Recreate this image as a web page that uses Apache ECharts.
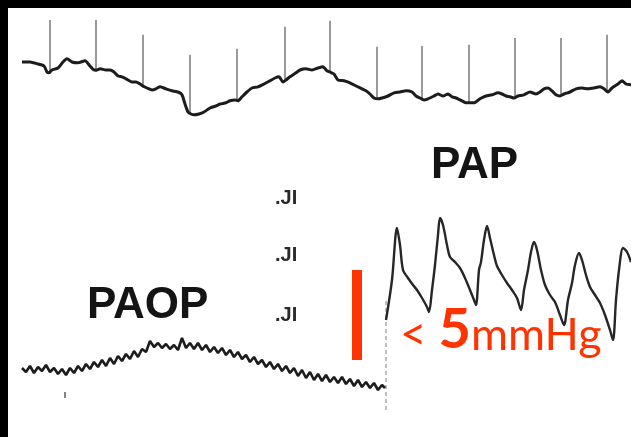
<!DOCTYPE html>
<html><head><meta charset="utf-8">
<script src="https://cdn.jsdelivr.net/npm/echarts@6/dist/echarts.min.js"></script>
<style>html,body{margin:0;padding:0;background:#fff}#c{width:631px;height:437px}</style>
</head><body><div id="c"></div>
<script>
// ECG (time in s, amplitude in mV)
var ecgTime = [0.02,0.10,0.18,0.24,0.27,0.29,0.32,0.38,0.43,0.47,0.52,0.58,0.65,0.70,0.74,0.77,0.80,0.86,0.90,0.94,0.98,1.02,1.06,1.12,1.16,1.20,1.23,1.27,1.32,1.36,1.40,1.46,1.52,1.58,1.62,1.65,1.68,1.71,1.74,1.79,1.84,1.90,1.96,2.00,2.06,2.10,2.15,2.18,2.22,2.27,2.32,2.38,2.44,2.50,2.55,2.59,2.63,2.66,2.70,2.76,2.80,2.86,2.92,2.98,3.03,3.07,3.10,3.14,3.18,3.24,3.30,3.36,3.42,3.46,3.50,3.54,3.58,3.62,3.68,3.74,3.80,3.86,3.92,3.96,4.00,4.04,4.08,4.14,4.18,4.23,4.28,4.32,4.36,4.42,4.46,4.50,4.54,4.60,4.66,4.72,4.78,4.82,4.86,4.90,4.94,4.98,5.04,5.10,5.16,5.20,5.24,5.28,5.32,5.36,5.40,5.44,5.50,5.56,5.62,5.68,5.74,5.80,5.84,5.88,5.92,5.98,6.02,6.06,6.11];
var ecgMv = [1.45,1.45,1.40,1.35,1.20,1.18,1.25,1.30,1.45,1.53,1.45,1.43,1.48,1.35,1.25,1.25,1.28,1.25,1.25,1.20,1.10,1.08,1.03,0.95,0.95,0.90,0.85,0.80,0.75,0.78,0.83,0.78,0.73,0.70,0.63,0.40,0.20,0.15,0.13,0.15,0.20,0.30,0.35,0.40,0.43,0.48,0.50,0.48,0.58,0.70,0.80,0.83,0.90,0.98,1.05,1.08,0.95,1.00,1.08,1.18,1.25,1.28,1.25,1.30,1.33,1.23,1.20,1.15,1.00,0.98,0.93,0.85,0.78,0.73,0.65,0.55,0.53,0.55,0.60,0.68,0.70,0.73,0.70,0.60,0.55,0.50,0.53,0.60,0.65,0.60,0.65,0.58,0.55,0.48,0.43,0.43,0.43,0.53,0.60,0.63,0.68,0.65,0.60,0.58,0.55,0.60,0.63,0.70,0.65,0.70,0.78,0.80,0.73,0.63,0.60,0.65,0.70,0.78,0.80,0.78,0.80,0.83,0.78,0.70,0.80,0.90,0.98,0.90,0.88];
var spikeTime = [0.30,0.76,1.23,1.70,2.17,2.65,3.10,3.57,4.02,4.49,4.95,5.41,5.87];
var spikeTop = [2.50,2.50,2.13,1.63,1.78,2.33,2.48,1.83,1.85,1.88,2.05,2.05,2.13];
var spikeBottom = [1.15,1.20,0.80,0.15,0.48,0.95,1.18,0.50,0.48,0.40,0.55,0.60,0.70];

// Pressure traces (time in s, pressure in mmHg)
var paopTime = [0.02,0.06,0.10,0.14,0.18,0.22,0.26,0.30,0.34,0.38,0.42,0.46,0.50,0.54,0.58,0.62,0.66,0.70,0.74,0.78,0.82,0.86,0.90,0.94,0.98,1.02,1.06,1.10,1.14,1.18,1.22,1.26,1.30,1.34,1.38,1.42,1.46,1.50,1.54,1.58,1.62,1.66,1.70,1.74,1.78,1.82,1.86,1.90,1.94,1.98,2.02,2.06,2.10,2.14,2.18,2.22,2.26,2.30,2.34,2.38,2.42,2.46,2.50,2.54,2.58,2.62,2.66,2.70,2.74,2.78,2.82,2.86,2.90,2.94,2.98,3.02,3.06,3.10,3.14,3.18,3.22,3.26,3.30,3.34,3.38,3.42,3.46,3.50,3.54,3.58,3.62,3.65];
var paopMmHg = [8.10,7.90,8.20,7.85,8.15,7.95,8.25,7.90,8.10,7.80,8.05,7.75,8.10,7.85,8.20,7.95,8.30,8.05,8.40,8.15,8.50,8.20,8.60,8.30,8.70,8.45,8.80,8.55,8.95,8.65,9.05,8.90,9.45,9.15,9.35,9.10,9.30,9.05,9.25,9.00,9.60,9.10,9.35,9.05,9.35,9.00,9.25,8.90,9.15,8.85,9.10,8.75,9.00,8.65,8.90,8.55,8.75,8.40,8.65,8.30,8.50,8.15,8.40,8.05,8.30,7.95,8.20,7.85,8.10,7.70,8.00,7.60,7.90,7.50,7.80,7.45,7.75,7.40,7.65,7.35,7.65,7.30,7.55,7.20,7.50,7.15,7.40,7.10,7.35,7.00,7.25,7.10];
var papTime = [3.66,3.72,3.77,3.80,3.83,3.88,3.93,3.97,4.02,4.07,4.09,4.12,4.15,4.18,4.20,4.23,4.27,4.30,4.35,4.40,4.45,4.50,4.54,4.56,4.59,4.61,4.64,4.67,4.70,4.74,4.77,4.82,4.87,4.92,4.97,5.01,5.04,5.08,5.11,5.14,5.17,5.21,5.25,5.30,5.35,5.40,5.44,5.48,5.52,5.55,5.59,5.62,5.66,5.70,5.75,5.80,5.85,5.90,5.93,5.96,5.99,6.03,6.07,6.11];
var papMmHg = [10.50,12.50,15.10,14.25,13.00,12.60,12.25,12.00,11.60,11.15,10.90,12.00,13.25,14.75,15.60,15.25,14.25,13.65,13.40,13.10,12.60,12.00,11.50,11.25,13.00,13.40,14.50,15.20,14.60,13.75,13.20,12.75,12.35,12.00,11.60,11.00,12.00,13.00,13.90,14.40,14.00,13.00,12.25,11.75,11.40,10.75,10.25,11.50,12.35,13.25,13.85,13.50,12.75,12.15,11.75,11.35,10.75,10.00,9.50,11.50,13.00,14.10,13.90,13.40];
var switchTime = [3.66, 3.66];
var switchMmHg = [6.0, 11.5];
var scaleBarTime = [3.37, 3.37];
var scaleBarMmHg = [8.5, 13.0];
var artifactTime = [0.45];
var artifactMmHg = [6.75];

// Labels
var labelPaop = 'PAOP';
var labelPap = 'PAP';
var calMark = '.JI';
var noteLess = '< ';
var noteValue = '5';
var noteUnit = 'mmHg';

function pairs(xs, ys) { return xs.map(function (x, i) { return [x, ys[i]]; }); }
var spikeData = [];
spikeTime.forEach(function (t, i) {
  spikeData.push([t, spikeBottom[i]], [t, spikeTop[i]], [t, spikeBottom[i]], '-');
});

var chart = echarts.init(document.getElementById('c'), null, { renderer: 'canvas' });
var hidden = { show: false };
var red = '#ff3300';
chart.setOption({
  backgroundColor: '#ffffff',
  animation: false,
  grid: [
    { left: 20, top: 20, width: 611, height: 100 },
    { left: 20, top: 200, width: 611, height: 230 }
  ],
  xAxis: [
    { type: 'value', gridIndex: 0, min: 0, max: 6.11, axisLine: hidden, axisTick: hidden, axisLabel: hidden, splitLine: hidden },
    { type: 'value', gridIndex: 1, min: 0, max: 6.11, axisLine: hidden, axisTick: hidden, axisLabel: hidden, splitLine: hidden }
  ],
  yAxis: [
    { type: 'value', gridIndex: 0, min: 0, max: 2.5, axisLine: hidden, axisTick: hidden, axisLabel: hidden, splitLine: hidden },
    { type: 'value', gridIndex: 1, min: 5, max: 16.5, axisLine: hidden, axisTick: hidden, axisLabel: hidden, splitLine: hidden }
  ],
  series: [
    { type: 'line', name: 'ECG spikes', xAxisIndex: 0, yAxisIndex: 0, data: spikeData, symbol: 'none', clip: false,
      lineStyle: { color: '#8f8f8f', width: 1.8 } },
    { type: 'line', name: 'ECG', xAxisIndex: 0, yAxisIndex: 0, data: pairs(ecgTime, ecgMv), symbol: 'none', smooth: 0.2,
      lineStyle: { color: '#1c1c1c', width: 3 } },
    { type: 'line', name: 'switch', xAxisIndex: 1, yAxisIndex: 1, data: pairs(switchTime, switchMmHg), symbol: 'none',
      lineStyle: { color: '#b8b8b8', width: 1.8, type: [4, 3] } },
    { type: 'line', name: 'PAOP', xAxisIndex: 1, yAxisIndex: 1, data: pairs(paopTime, paopMmHg), symbol: 'none',
      lineStyle: { color: '#1c1c1c', width: 2.6 } },
    { type: 'line', name: 'PAP', xAxisIndex: 1, yAxisIndex: 1, data: pairs(papTime, papMmHg), symbol: 'none', smooth: 0.3,
      lineStyle: { color: '#262626', width: 2.4 } },
    { type: 'line', name: 'scale', xAxisIndex: 1, yAxisIndex: 1, data: pairs(scaleBarTime, scaleBarMmHg), symbol: 'none',
      lineStyle: { color: red, width: 10, cap: 'butt' } },
    { type: 'scatter', name: 'artifact', xAxisIndex: 1, yAxisIndex: 1, data: pairs(artifactTime, artifactMmHg),
      symbol: 'rect', symbolSize: [2, 6], itemStyle: { color: '#666' } }
  ],
  graphic: [
    { type: 'rect', left: 0, top: 0, shape: { width: 631, height: 8 }, style: { fill: '#000' }, z: 100 },
    { type: 'rect', left: 0, top: 0, shape: { width: 8, height: 437 }, style: { fill: '#000' }, z: 100 },
    { type: 'text', left: 87, top: 284, style: { text: labelPaop, fill: '#141414', font: 'bold 44px "Liberation Sans", Arial, sans-serif' } },
    { type: 'text', left: 431, top: 144, style: { text: labelPap, fill: '#141414', font: 'bold 44px "Liberation Sans", Arial, sans-serif' } },
    { type: 'text', left: 275, top: 188, style: { text: calMark, fill: '#2a2a2a', font: 'bold 20px "Liberation Sans", Arial, sans-serif' } },
    { type: 'text', left: 275, top: 245, style: { text: calMark, fill: '#2a2a2a', font: 'bold 20px "Liberation Sans", Arial, sans-serif' } },
    { type: 'text', left: 275, top: 305, style: { text: calMark, fill: '#2a2a2a', font: 'bold 20px "Liberation Sans", Arial, sans-serif' } },
    { type: 'text', left: 400, top: 302, style: {
        text: '{a|' + noteLess + '}{b|' + noteValue + '}{c|' + noteUnit + '}',
        fill: red,
        rich: {
          a: { fontFamily: 'Lato', fontSize: 46, fill: red, verticalAlign: 'bottom' },
          b: { fontFamily: 'Lato', fontWeight: 'bold', fontSize: 56, fill: red, verticalAlign: 'bottom' },
          c: { fontFamily: 'Lato', fontSize: 45, fill: red, verticalAlign: 'bottom' }
        } } }
  ]
});
</script></body></html>
